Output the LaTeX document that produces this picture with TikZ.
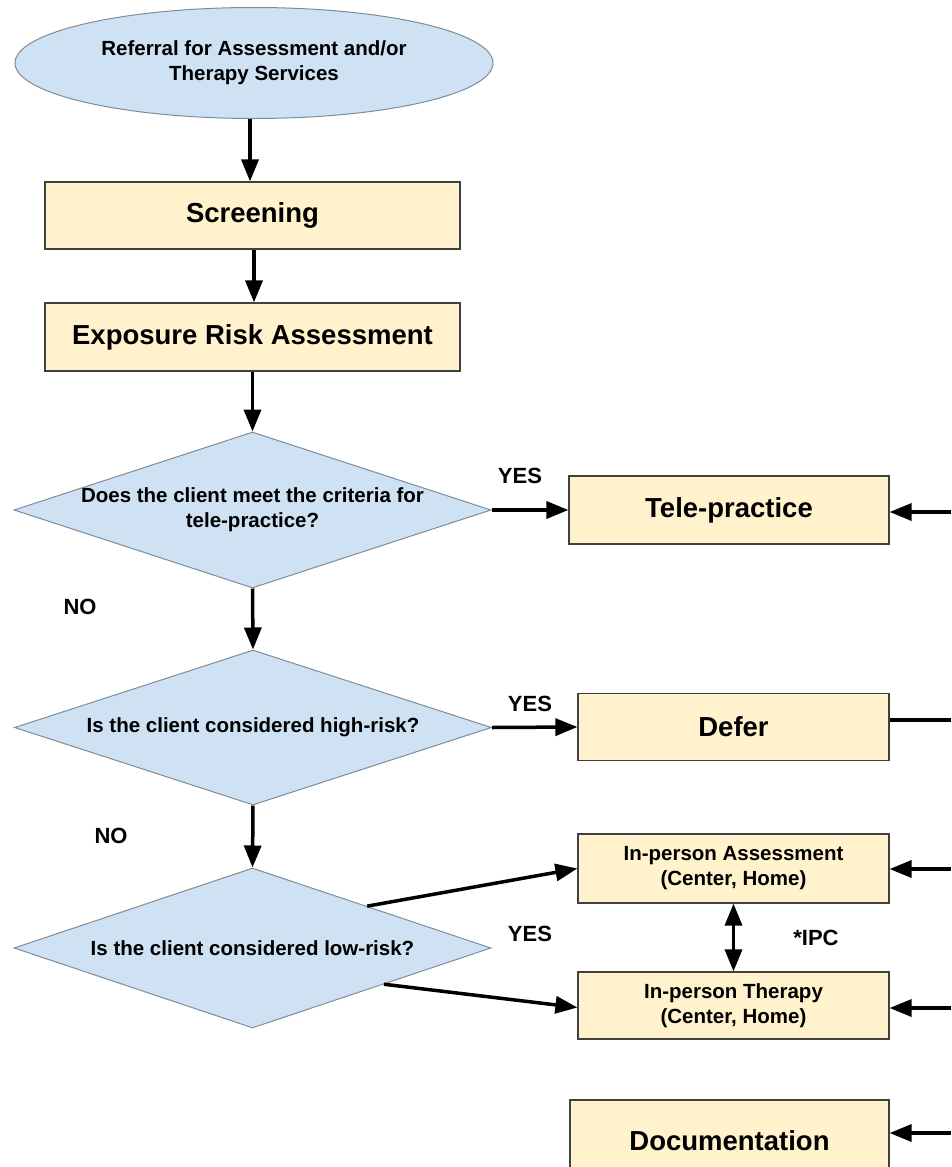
\documentclass[tikz,border=0pt]{standalone}
\usepackage{fontspec}
\setmainfont{Liberation Sans}
\usetikzlibrary{shapes.geometric,arrows.meta,calc}
\definecolor{bluefill}{HTML}{CFE2F3}
\definecolor{yellowfill}{HTML}{FFF2CC}
\definecolor{blueline}{HTML}{7E8C99}
\definecolor{boxline}{HTML}{404040}
\begin{document}
\begin{tikzpicture}[
x=1pt, y=-1pt,
start/.style={ellipse, draw=blueline, line width=1pt, fill=bluefill, inner sep=0pt, align=center, font=\bfseries\fontsize{20.5}{25}\selectfont},
ques/.style={diamond, draw=blueline, line width=1pt, fill=bluefill, inner sep=-10pt, aspect=3, align=center, font=\bfseries\fontsize{20.5}{25}\selectfont},
stepbox/.style={rectangle, draw=boxline, line width=1.2pt, fill=yellowfill, inner sep=0pt, align=center, font=\bfseries\fontsize{27.5}{32}\selectfont},
smallbox/.style={stepbox, font=\bfseries\fontsize{20.5}{25}\selectfont},
answer/.style={font=\bfseries\fontsize{22}{26}\selectfont},
arr/.style={line width=3.5pt, -{Triangle[length=22pt,width=17pt]}},
arrs/.style={line width=3.5pt, {Triangle[length=22pt,width=17pt]}-{Triangle[length=22pt,width=17pt]}},
link/.style={line width=3.5pt}
]

\def\w{415}
\def\ws{311}
\def\wq{477}

\useasboundingbox (0,0) rectangle (951,1167);

%%% main column
\node[start, minimum width=478pt, minimum height=111pt] (ref) at (254,63) {Referral for Assessment and/or\\Therapy Services};
\node[stepbox, minimum width=\w pt, minimum height=67pt] (screen) at (252.5,215.5) {Screening};
\node[stepbox, minimum width=\w pt, minimum height=68pt] (expo) at (252.5,337) {Exposure Risk Assessment};
\node[ques, minimum width=\wq pt, minimum height=156pt] (tpq) at (252.5,510) {Does the client meet the criteria for\\tele-practice?};
\node[ques, minimum width=\wq pt, minimum height=155pt] (hrq) at (253,727.5) {Is the client considered high-risk?};
\node[ques, minimum width=\wq pt, minimum height=160pt] (lrq) at (252.5,948) {Is the client considered low-risk?};

%%% right column
\node[stepbox, minimum width=320pt, minimum height=68pt] (tele) at (729,510) {Tele-practice};
\node[stepbox, minimum width=\ws pt, minimum height=67pt] (defer) at (733.5,727) {Defer};
\node[smallbox, minimum width=\ws pt, minimum height=69pt] (ipa) at (733.5,868.5) {In-person Assessment\\(Center, Home)};
\node[smallbox, minimum width=\ws pt, minimum height=67pt] (ipt) at (733.5,1005.5) {In-person Therapy\\(Center, Home)};
\node[stepbox, minimum width=319pt, minimum height=82pt] (doc) at (729.5,1141) {Documentation};

%%% labels
\node[answer] (yes1) at (520,476) {YES};
\node[answer] (yes2) at (530,704) {YES};
\node[answer] (yes3) at (530,934) {YES};
\node[answer] (no1) at (80,607) {NO};
\node[answer] (no2) at (111,836) {NO};
\node[answer] (ipc) at (816,938) {*IPC};

%%% flow
\draw[arr] (ref.south -| 250,0) -- (screen.north -| 250,0);
\draw[arr] (screen.south -| 254,0) -- (expo.north -| 254,0);
\draw[arr] (expo.south) -- (tpq.north);
\draw[arr] (tpq.south) -- (hrq.north);
\draw[arr] (hrq.south) -- (lrq.north);
\draw[arr] (tpq.east) -- (tele.west);
\draw[arr] (hrq.east) -- (defer.west);
\draw[arr] ($(lrq.north)!0.48!(lrq.east)$) -- (ipa.west);
\draw[arr] ($(lrq.east)!0.45!(lrq.south)$) -- ([yshift=-2pt]ipt.west);
\draw[arrs] (ipa.south) -- (ipt.north);

%%% from the right edge
\coordinate (eT) at (951,512);
\coordinate (eD) at (951,720);
\coordinate (eA) at (951,869);
\coordinate (eI) at (951,1008);
\coordinate (eC) at (951,1133);
\draw[arr] (eT) -- (eT -| tele.east);
\draw[link] (defer.east |- eD) -- (eD);
\draw[arr] (eA) -- (eA -| ipa.east);
\draw[arr] (eI) -- (eI -| ipt.east);
\draw[arr] (eC) -- (eC -| doc.east);

\end{tikzpicture}
\end{document}
